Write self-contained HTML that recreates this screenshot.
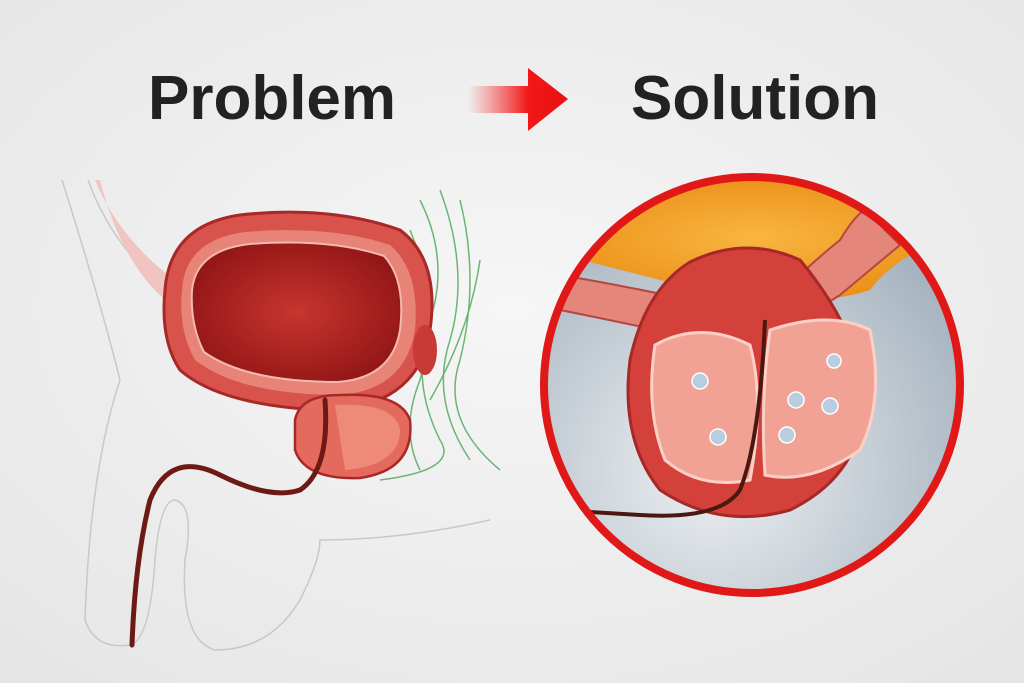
<!DOCTYPE html>
<html><head><meta charset="utf-8"><style>
html,body{margin:0;padding:0;width:1024px;height:683px;overflow:hidden;background:#efefef}
</style></head><body>
<svg width="1024" height="683" viewBox="0 0 1024 683" xmlns="http://www.w3.org/2000/svg">
<defs>
<radialGradient id="bg" cx="50%" cy="45%" r="70%"><stop offset="0" stop-color="#f6f6f6"/><stop offset="1" stop-color="#e6e6e6"/></radialGradient>
<linearGradient id="arr" x1="0" x2="1"><stop offset="0" stop-color="#ff3030" stop-opacity="0"/><stop offset="0.6" stop-color="#f01818"/><stop offset="1" stop-color="#e81010"/></linearGradient>
<radialGradient id="inside" cx="40%" cy="70%" r="70%"><stop offset="0" stop-color="#eef0f2"/><stop offset="1" stop-color="#a3b1bd"/></radialGradient>
<radialGradient id="fat" cx="50%" cy="50%" r="60%"><stop offset="0" stop-color="#f8b640"/><stop offset="1" stop-color="#e98a12"/></radialGradient>
<radialGradient id="lumen" cx="50%" cy="50%" r="60%"><stop offset="0" stop-color="#c8352e"/><stop offset="1" stop-color="#8e1414"/></radialGradient>
<clipPath id="cc"><circle cx="752" cy="385" r="206"/></clipPath>
</defs>
<rect width="1024" height="683" fill="url(#bg)"/>
<text x="272" y="119" text-anchor="middle" font-family="Liberation Sans, sans-serif" font-weight="bold" font-size="62" fill="#222">Problem</text>
<text x="755" y="119" text-anchor="middle" font-family="Liberation Sans, sans-serif" font-weight="bold" font-size="62" fill="#222">Solution</text>
<path d="M468 86 H528 V68 L568 99 L528 131 V113 H468 Z" fill="url(#arr)"/>
<g fill="none" stroke="#c8c8c8" stroke-width="1.5">
<path d="M62 180 Q100 300 120 380 Q90 470 85 620 Q95 650 130 645"/>
<path d="M88 180 Q110 240 155 280"/>
<path d="M130 645 Q150 640 155 560 Q160 500 175 500 Q195 505 185 560 Q180 640 215 650 Q270 650 300 600 Q320 560 320 540 Q400 540 490 520"/>
</g>
<path d="M95 180 Q120 240 175 280 L165 300 Q120 260 100 180 Z" fill="#f0c4c0"/>
<g fill="none" stroke="#4aa655" stroke-width="1.5" opacity="0.8">
<path d="M420 200 Q450 260 430 320 Q410 380 440 440 Q460 470 380 480"/>
<path d="M440 190 Q470 270 450 340 Q430 400 470 460"/>
<path d="M460 200 Q480 280 460 360 Q440 420 500 470"/>
<path d="M410 230 Q440 300 420 380 Q400 430 420 470"/>
<path d="M480 260 Q470 330 430 400"/>
</g>
<path d="M165 290 Q170 225 240 215 Q330 205 400 230 Q440 260 430 330 Q420 400 340 410 L320 410 Q220 405 180 370 Q160 340 165 290 Z" fill="#d9534d" stroke="#a82828" stroke-width="3"/>
<path d="M182 290 Q185 240 245 232 Q330 225 390 245 Q420 270 415 330 Q405 390 340 395 Q240 395 195 360 Q178 330 182 290 Z" fill="#e88377"/>
<path d="M192 290 Q196 250 250 244 Q330 238 384 256 Q406 280 400 330 Q392 378 338 382 Q246 382 204 352 Q190 325 192 290 Z" fill="url(#lumen)" stroke="#f4b8ae" stroke-width="2"/>
<ellipse cx="425" cy="350" rx="12" ry="25" fill="#c83a36"/>
<path d="M295 420 Q300 395 340 395 Q400 392 410 420 Q415 470 360 478 Q305 480 295 450 Z" fill="#e46a5d" stroke="#a82828" stroke-width="2.5"/>
<path d="M335 405 Q395 402 400 430 Q400 465 345 470 Z" fill="#ee8a78"/>
<path d="M325 400 Q330 470 300 490 Q270 500 220 475 Q170 450 150 500 Q135 560 132 645" fill="none" stroke="#6e1a14" stroke-width="5" stroke-linecap="round"/>
<g clip-path="url(#cc)">
<rect x="540" y="175" width="430" height="420" fill="url(#inside)"/>
<path d="M540 175 H970 V230 Q900 250 870 290 Q840 300 800 300 L700 290 Q640 275 590 262 L540 260 Z" fill="url(#fat)"/>
<path d="M560 275 Q620 285 690 300 L680 335 Q610 320 560 310 Z" fill="#e4867a" stroke="#b54640" stroke-width="2"/>
<path d="M760 320 Q790 280 840 240 Q855 215 865 210 L900 245 Q870 270 840 295 Q800 320 790 340 Z" fill="#e4867a" stroke="#b54640" stroke-width="2"/>
<path d="M690 262 Q745 235 800 260 Q850 320 862 380 Q872 470 790 510 Q720 530 660 490 Q620 440 630 360 Q645 290 690 262 Z" fill="#d4413a" stroke="#a82828" stroke-width="3"/>
<path d="M655 345 Q700 320 750 345 Q765 400 750 480 Q700 490 665 460 Q645 410 655 345 Z" fill="#f2a295" stroke="#fbd0c6" stroke-width="3"/>
<path d="M770 330 Q830 310 870 330 Q885 400 860 450 Q810 485 765 475 Q760 400 770 330 Z" fill="#f2a295" stroke="#fbd0c6" stroke-width="3"/>
<g fill="#b9cde0" stroke="#fff" stroke-width="1.5">
<circle cx="700" cy="381" r="8"/><circle cx="718" cy="437" r="8"/><circle cx="796" cy="400" r="8"/>
<circle cx="787" cy="435" r="8"/><circle cx="830" cy="406" r="8"/><circle cx="834" cy="361" r="7"/>
</g>
<path d="M765 320 Q760 440 740 490 Q720 520 640 515 L590 512" fill="none" stroke="#4a1810" stroke-width="4"/>
</g>
<circle cx="752" cy="385" r="208" fill="none" stroke="#e01818" stroke-width="8"/>
</svg>
</body></html>
